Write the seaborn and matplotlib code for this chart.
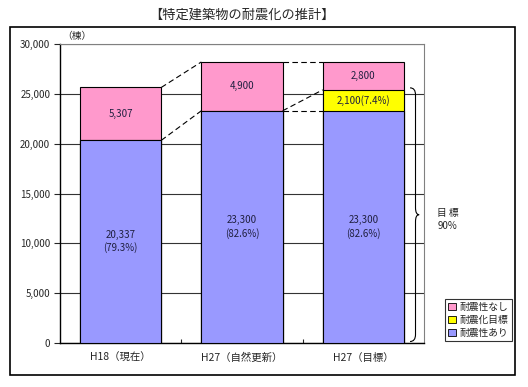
import matplotlib
matplotlib.use('Agg')
import matplotlib.pyplot as plt
import seaborn as sns
import pandas as pd
from matplotlib.patches import Patch, Rectangle, PathPatch
from matplotlib.path import Path
from matplotlib.ticker import FuncFormatter

sns.set_style('white')
plt.rcParams['font.family'] = ['Noto Sans CJK JP', 'DejaVu Sans']

# データ
categories = ['H18（現在）', 'H27（自然更新）', 'H27（目標）']
seismic_ok = [20337, 23300, 23300]
target = [0, 0, 2100]
seismic_ng = [5307, 4900, 2800]
ok_labels = ['20,337\n(79.3%)', '23,300\n(82.6%)', '23,300\n(82.6%)']
target_labels = ['', '', '2,100(7.4%)']
ng_labels = ['5,307', '4,900', '2,800']
series_names = ['耐震性なし', '耐震化目標', '耐震性あり']

c_ng = '#FF99CC'
c_target = '#FFFF00'
c_ok = '#9999FF'
txt_c = '#202040'

df = pd.DataFrame({'cat': categories, 'ok': seismic_ok, 'tgt': target, 'ng': seismic_ng})
df['lvl2'] = df['ok'] + df['tgt']
df['total'] = df['lvl2'] + df['ng']

fig = plt.figure(figsize=(5.28, 3.87), dpi=100)
ax = fig.add_axes([60 / 528, 1 - 343 / 387, 364 / 528, 299 / 387])

bw = 0.67
kw = dict(errorbar=None, saturation=1, edgecolor='black', linewidth=0.8, width=bw, ax=ax, zorder=3)
sns.barplot(data=df, x='cat', y='total', color=c_ng, **kw)
sns.barplot(data=df, x='cat', y='lvl2', color=c_target, **kw)
sns.barplot(data=df, x='cat', y='ok', color=c_ok, **kw)

# 値ラベル
for i in range(len(categories)):
    ax.text(i, seismic_ok[i] / 2, ok_labels[i], ha='center', va='center', fontsize=7,
            color=txt_c, zorder=5, linespacing=1.3)
    if target[i] > 0:
        ax.text(i, seismic_ok[i] + target[i] / 2, target_labels[i], ha='center', va='center',
                fontsize=7, color=txt_c, zorder=5)
    ax.text(i, df['lvl2'][i] + seismic_ng[i] / 2, ng_labels[i], ha='center', va='center',
            fontsize=7, color=txt_c, zorder=5)

# 破線
dash = dict(color='black', lw=0.8, ls=(0, (5, 3)), zorder=4)
h = bw / 2
ax.plot([0 + h, 1 - h], [df['total'][0], df['total'][1]], **dash)
ax.plot([0 + h, 1 - h], [df['ok'][0], df['ok'][1]], **dash)
ax.plot([1 + h, 2 - h], [df['total'][1], df['total'][2]], **dash)
ax.plot([1 + h, 2 - h], [df['ok'][1], df['ok'][2]], **dash)
ax.plot([1 + h, 2 - h], [df['ok'][1], df['lvl2'][2]], **dash)

# 中括弧
ytop = df['lvl2'][2] + 200
ybot = 150
ymid = (ytop + ybot) / 2
x0, xb, xt = 2.385, 2.43, 2.46
d = 700
verts = [(x0, ytop), (xb, ytop), (xb, ytop - d),
         (xb, ymid + d), (xb, ymid), (xt, ymid),
         (xb, ymid), (xb, ymid - d),
         (xb, ybot + d), (xb, ybot), (x0, ybot)]
codes = [Path.MOVETO, Path.CURVE3, Path.CURVE3,
         Path.LINETO, Path.CURVE3, Path.CURVE3,
         Path.CURVE3, Path.CURVE3,
         Path.LINETO, Path.CURVE3, Path.CURVE3]
ax.add_patch(PathPatch(Path(verts, codes), fill=False, lw=0.8, color='black', zorder=4))
ax.text(2.61, ymid - 500, '目 標\n90%', fontsize=7, ha='left', va='center',
        linespacing=1.3, clip_on=False)

# 軸
ax.set_xlim(-0.5, 2.5)
ax.set_ylim(0, 30000)
ax.set_yticks(range(0, 30001, 5000))
ax.yaxis.set_major_formatter(FuncFormatter(lambda v, p: f'{int(v):,}'))
ax.set_xlabel('')
ax.set_ylabel('')
ax.grid(axis='y', color='#333333', lw=0.8, zorder=0)
ax.set_axisbelow(True)
ax.tick_params(axis='y', direction='out', length=4, width=0.8, labelsize=7, pad=3, left=True)
ax.tick_params(axis='x', length=0, labelsize=7.5, pad=7)
ax.set_xticks([0.5, 1.5], minor=True)
ax.tick_params(axis='x', which='minor', direction='in', length=3, width=0.8, bottom=True)
for s in ['left', 'bottom']:
    ax.spines[s].set_color('black')
    ax.spines[s].set_linewidth(1)
for s in ['top', 'right']:
    ax.spines[s].set_color('#808080')
    ax.spines[s].set_linewidth(0.8)

# 凡例
colors = [c_ng, c_target, c_ok]
handles = [Patch(facecolor=c, edgecolor='black', lw=0.6) for c in colors]
leg = fig.legend(handles, series_names, loc='lower left', bbox_to_anchor=(440 / 528, 1 - 346 / 387),
                 fontsize=7, frameon=True, fancybox=False, handlelength=0.8, handleheight=0.8,
                 handletextpad=0.4, borderpad=0.35, labelspacing=0.3)
leg.get_frame().set_edgecolor('black')
leg.get_frame().set_linewidth(0.8)

# タイトル・単位
fig.text(242 / 528, 1 - 15 / 387, '【特定建築物の耐震化の推計】', ha='center', va='center', fontsize=9.5)
fig.text(62 / 528, 1 - 36 / 387, '（棟）', ha='left', va='center', fontsize=7)

# 外枠
fig.patches.append(Rectangle((10 / 528, 1 - 375 / 387), 505 / 528, 348 / 387,
                             transform=fig.transFigure, fill=False, edgecolor='black', lw=1.2))

fig.savefig('out.png', dpi=100)
